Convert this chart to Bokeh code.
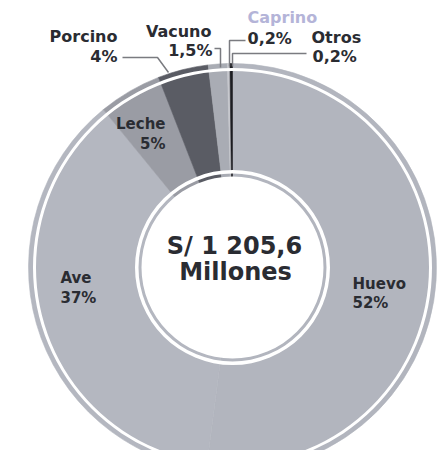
import numpy as np
from bokeh.plotting import figure
from bokeh.models import ColumnDataSource, Range1d
from bokeh.core.properties import value
from bokeh.embed import file_html
from bokeh.resources import INLINE

# ---- data ----
categories = ["Huevo", "Ave", "Leche", "Porcino", "Vacuno", "Caprino", "Otros"]
shares = [52, 37, 5, 4, 1.5, 0.2, 0.2]
pct_labels = ["52%", "37%", "5%", "4%", "1,5%", "0,2%", "0,2%"]
total_line1 = "S/ 1 205,6"
total_line2 = "Millones"

# ---- styles / layout ----
colors = ["#b2b5be", "#b4b7c0", "#9a9ca4", "#5a5c64", "#a9acb4", "#c6c7cd", "#1c1d22"]
W, H = 446, 450
CX, CY = 232, 183
R_OUT, R_IN = 204, 88
TXT = "#2a2c32"
FONT = value("DejaVu Sans")

frac = np.array(shares, dtype=float)
frac = frac / frac.sum()
cum_end = np.cumsum(frac)
cum_start = cum_end - frac
start = np.pi / 2 - cum_end * 2 * np.pi
end = np.pi / 2 - cum_start * 2 * np.pi

src = ColumnDataSource(dict(cat=categories, start=start, end=end, color=colors,
                            x=[CX] * len(categories), y=[CY] * len(categories)))

p = figure(width=W, height=H, output_backend="svg", toolbar_location=None,
           x_range=Range1d(0, W), y_range=Range1d(0, H), min_border=0)
p.axis.visible = False
p.grid.visible = False
p.outline_line_color = None
p.background_fill_color = "white"
p.border_fill_color = "white"

p.annular_wedge(x="x", y="y", inner_radius=R_IN, outer_radius=R_OUT,
                start_angle="start", end_angle="end", direction="anticlock",
                fill_color="color", line_color="color", line_width=0.6, source=src)

# white rings
p.annular_wedge(x=CX, y=CY, inner_radius=196.5, outer_radius=199.5, start_angle=0,
                end_angle=2 * np.pi, fill_color="white", line_color=None)
p.annular_wedge(x=CX, y=CY, inner_radius=94, outer_radius=97.5, start_angle=0,
                end_angle=2 * np.pi, fill_color="white", line_color=None)
p.circle(x=CX, y=CY, radius=91, fill_color="white", line_color=None)

# center text
p.text(x=[234], y=[205], text=[total_line1], text_font=FONT, text_font_style="bold",
       text_font_size="24px", text_align="center", text_baseline="middle", text_color=TXT)
p.text(x=[235], y=[179], text=[total_line2], text_font=FONT, text_font_style="bold",
       text_font_size="24px", text_align="center", text_baseline="middle", text_color=TXT)

# labels: (name pos, pct pos, align)
lab = {
    "Huevo": ((352, 167), (352, 148), "left"),
    "Ave": ((60, 173), (60, 153), "left"),
    "Leche": ((165, 327), (165, 307), "right"),
    "Porcino": ((117, 414), (117, 394), "right"),
    "Vacuno": ((211, 419), (212, 400), "right"),
    "Caprino": ((247, 433), (247, 412), "left"),
    "Otros": ((311, 413), (312, 394), "left"),
}
for c, pl in zip(categories, pct_labels):
    (nx, ny), (px, py), al = lab[c]
    big = c in ("Porcino", "Vacuno", "Caprino", "Otros")
    fs = "16px" if big else "15px"
    p.text(x=[nx], y=[ny], text=[c], text_font=FONT, text_font_style="bold",
           text_font_size=fs, text_align=al, text_baseline="middle",
           text_color="#b4b4d8" if c == "Caprino" else TXT)
    p.text(x=[px], y=[py], text=[pl], text_font=FONT, text_font_style="bold",
           text_font_size=fs, text_align=al, text_baseline="middle", text_color=TXT)

# leader lines
leaders = [
    ([122, 157, 168], [393, 393, 378]),
    ([214, 220, 220], [402, 402, 383]),
    ([245, 229, 229], [410, 410, 384]),
    ([306, 232, 232], [397, 397, 384]),
]
for xs, ys in leaders:
    p.line(xs, ys, line_color="#7a7b80", line_width=1.5)

open("out.html", "w").write(file_html(p, INLINE))
